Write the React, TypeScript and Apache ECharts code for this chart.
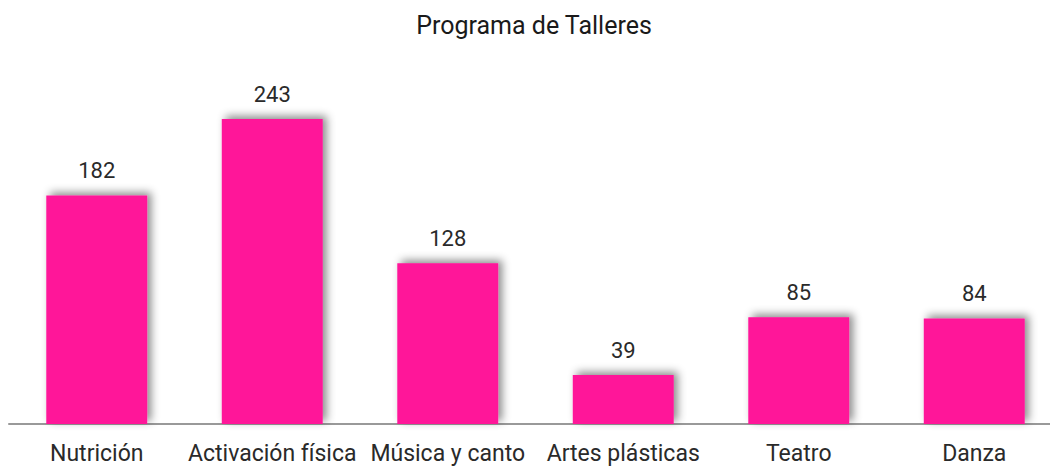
import React, { useEffect, useRef } from "react";
import * as echarts from "echarts";

const title = "Programa de Talleres";
const categories = ["Nutrición", "Activación física", "Música y canto", "Artes plásticas", "Teatro", "Danza"];
const values = [182, 243, 128, 39, 85, 84];

export default function App() {
  const ref = useRef<HTMLDivElement>(null);
  useEffect(() => {
    const chart = echarts.init(ref.current!, null, { renderer: "svg" });
    chart.setOption({
      animation: false,
      backgroundColor: "#ffffff",
      textStyle: { fontFamily: "Roboto" },
      title: {
        text: title,
        left: 529,
        textAlign: "center",
        top: 8,
        textStyle: { fontFamily: "Roboto", fontSize: 25, fontWeight: "normal", color: "#1a1a1a" },
      },
      grid: { left: 9, right: 3, top: 47.5, bottom: 47, containLabel: false },
      xAxis: {
        type: "category",
        data: categories,
        axisLine: { lineStyle: { color: "#999999", width: 2 } },
        axisTick: { show: false },
        axisLabel: { fontFamily: "Roboto", fontSize: 23, color: "#2a2a2a", margin: 18, interval: 0 },
      },
      yAxis: {
        type: "value",
        min: 0,
        max: 300,
        show: false,
        splitLine: { show: false },
      },
      series: [
        {
          type: "bar",
          data: values,
          barCategoryGap: "42.5%",
          itemStyle: {
            color: "#FF1599",
            shadowColor: "rgba(0,0,0,0.45)",
            shadowBlur: 8,
            shadowOffsetX: 4,
            shadowOffsetY: -3,
          },
          label: {
            show: true,
            position: "top",
            distance: 14,
            fontFamily: "Roboto",
            fontSize: 22,
            color: "#2a2a2a",
          },
        },
      ],
    });
    return () => chart.dispose();
  }, []);
  return (
    <div style={{ position: "fixed", left: 0, top: 0, width: 1050, height: 471, overflow: "hidden", background: "#fff" }}>
      <div ref={ref} style={{ width: 1065, height: 471 }} />
    </div>
  );
}
